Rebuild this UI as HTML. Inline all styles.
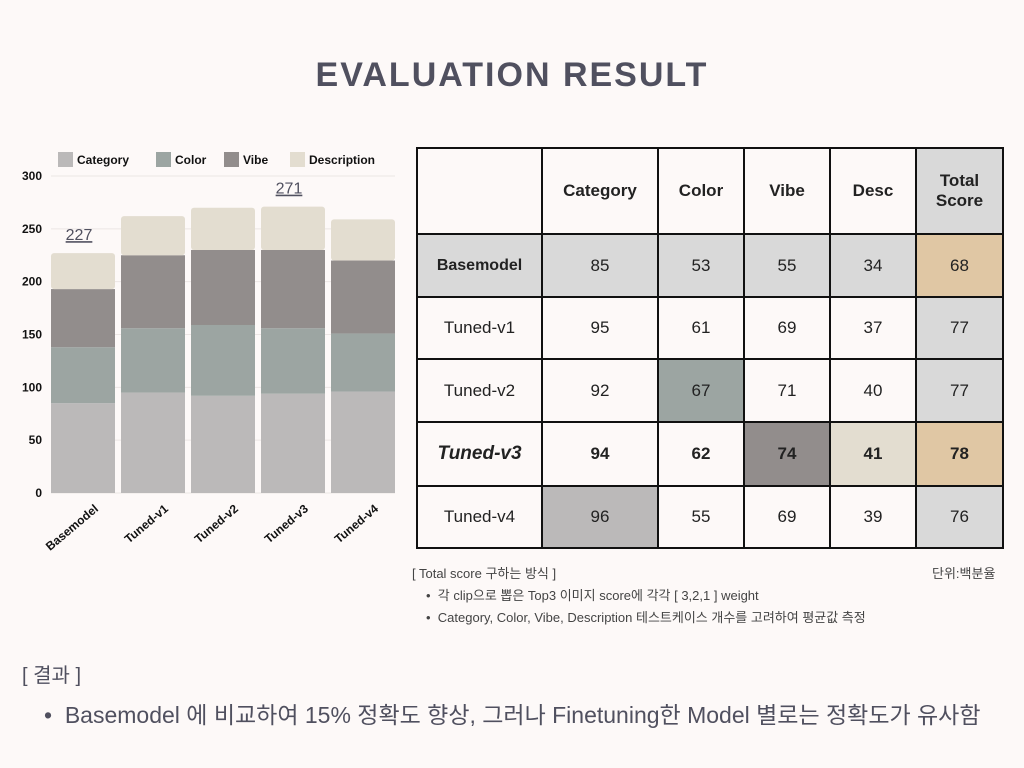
<!DOCTYPE html>
<html><head><meta charset="utf-8"><style>
body{margin:0;width:1024px;height:768px;background:#fdf9f8;font-family:"Liberation Sans","Noto Sans CJK KR",sans-serif;position:relative;overflow:hidden;color:#222}
.title{position:absolute;top:56px;left:0;width:1024px;text-align:center;font-size:34px;font-weight:bold;letter-spacing:2px;color:#50505f}
table{position:absolute;left:416px;top:147px;border-collapse:collapse}
td{border:2px solid #111;text-align:center;font-size:17px;padding:0}
.g{background:#d9d9d9}.o{background:#e0c7a4}
.note{position:absolute;font-size:13px;color:#444}
</style></head><body>
<div class="title">EVALUATION RESULT</div>
<svg id="chart" width="410" height="600" style="position:absolute;left:0;top:0"></svg>
<table>
<tr style="height:86px"><td style="width:123px"></td><td style="width:114px;font-weight:bold">Category</td><td style="width:84px;font-weight:bold">Color</td><td style="width:84px;font-weight:bold">Vibe</td><td style="width:84px;font-weight:bold">Desc</td><td class="g" style="width:85px;font-weight:bold">Total<br>Score</td></tr>
<tr style="height:63px" class="g"><td style="font-weight:bold;font-size:16px">Basemodel</td><td>85</td><td>53</td><td>55</td><td>34</td><td class="o">68</td></tr>
<tr style="height:62px"><td>Tuned-v1</td><td>95</td><td>61</td><td>69</td><td>37</td><td class="g">77</td></tr>
<tr style="height:63px"><td>Tuned-v2</td><td>92</td><td style="background:#9ca5a2">67</td><td>71</td><td>40</td><td class="g">77</td></tr>
<tr style="height:64px;font-weight:bold"><td style="font-style:italic;font-size:19px">Tuned-v3</td><td>94</td><td>62</td><td style="background:#928d8c">74</td><td style="background:#e3ddd0">41</td><td class="o">78</td></tr>
<tr style="height:62px"><td>Tuned-v4</td><td style="background:#bbb9b9">96</td><td>55</td><td>69</td><td>39</td><td class="g">76</td></tr>
</table>
<div class="note" style="left:412px;top:563px">[ Total score 구하는 방식 ]</div>
<div class="note" style="left:932px;top:563px">단위:백분율</div>
<div class="note" style="left:426px;top:585px">•&nbsp;&nbsp;각 clip으로 뽑은 Top3 이미지 score에 각각 [ 3,2,1 ] weight</div>
<div class="note" style="left:426px;top:607px">•&nbsp;&nbsp;Category, Color, Vibe, Description 테스트케이스 개수를 고려하여 평균값 측정</div>
<div style="position:absolute;left:22px;top:659px;font-size:20px;color:#50505f">[ 결과 ]</div>
<div style="position:absolute;left:44px;top:696px;font-size:23px;color:#50505f">•&nbsp;&nbsp;Basemodel 에 비교하여 15% 정확도 향상, 그러나 Finetuning한 Model 별로는 정확도가 유사함</div>
<script>
const categories=["Basemodel","Tuned-v1","Tuned-v2","Tuned-v3","Tuned-v4"];
const seriesNames=["Category","Color","Vibe","Description"];
const catVals=[85,95,92,94,96];
const colorVals=[53,61,67,62,55];
const vibeVals=[55,69,71,74,69];
const descVals=[34,37,40,41,39];
const yTicks=[0,50,100,150,200,250,300];
const labelIdx=[0,3];
const colors=["#bbb9b9","#9ca5a2","#928d8c","#e3ddd0"];
const svg=document.getElementById('chart');const NS="http://www.w3.org/2000/svg";
const x0=51,step=70,bw=64,yb=493,yt=176,ymax=300;
const y=v=>yb-(v/ymax)*(yb-yt);
function mk(t,a,txt){const e=document.createElementNS(NS,t);for(const k in a)e.setAttribute(k,a[k]);if(txt!=null)e.textContent=txt;svg.appendChild(e);return e;}
yTicks.forEach(t=>{
 const l=mk('line',{x1:51,x2:395,y1:y(t),y2:y(t),stroke:'#ece6e4'});
 
 
 const tx=mk('text',{x:42,y:y(t)+4,'text-anchor':'end','font-size':12,'font-weight':'bold',fill:'#111'},t);
 
 
});
const series=[catVals,colorVals,vibeVals,descVals];
categories.forEach((c,i)=>{
 let acc=0;const bx=x0+i*step;
 series.forEach((s,j)=>{
  const r=mk('rect',{x:bx,y:y(acc+s[i]),width:bw,height:y(acc)-y(acc+s[i]),fill:colors[j],rx:j==3?3:0});
  
  
  acc+=s[i];
 });
 if(labelIdx.includes(i)){
  const t=mk('text',{x:bx+28,y:y(acc)-13,'text-anchor':'middle','font-size':16,fill:'#50505f','text-decoration':'underline'},acc);
  
  
 }
 const xl=mk('text',{x:bx+48,y:510,'text-anchor':'end','font-size':12,'font-weight':'bold',fill:'#111',transform:`rotate(-40 ${bx+48} 510)`},c);
 
 
});
const lx=[58,156,224,290];
seriesNames.forEach((n,j)=>{
 const r=mk('rect',{x:lx[j],y:152,width:15,height:15,fill:colors[j]});
 
 
 const t=mk('text',{x:lx[j]+19,y:164,'font-size':12,'font-weight':'bold',fill:'#111'},n);
 
 
});
</script>
</body></html>
